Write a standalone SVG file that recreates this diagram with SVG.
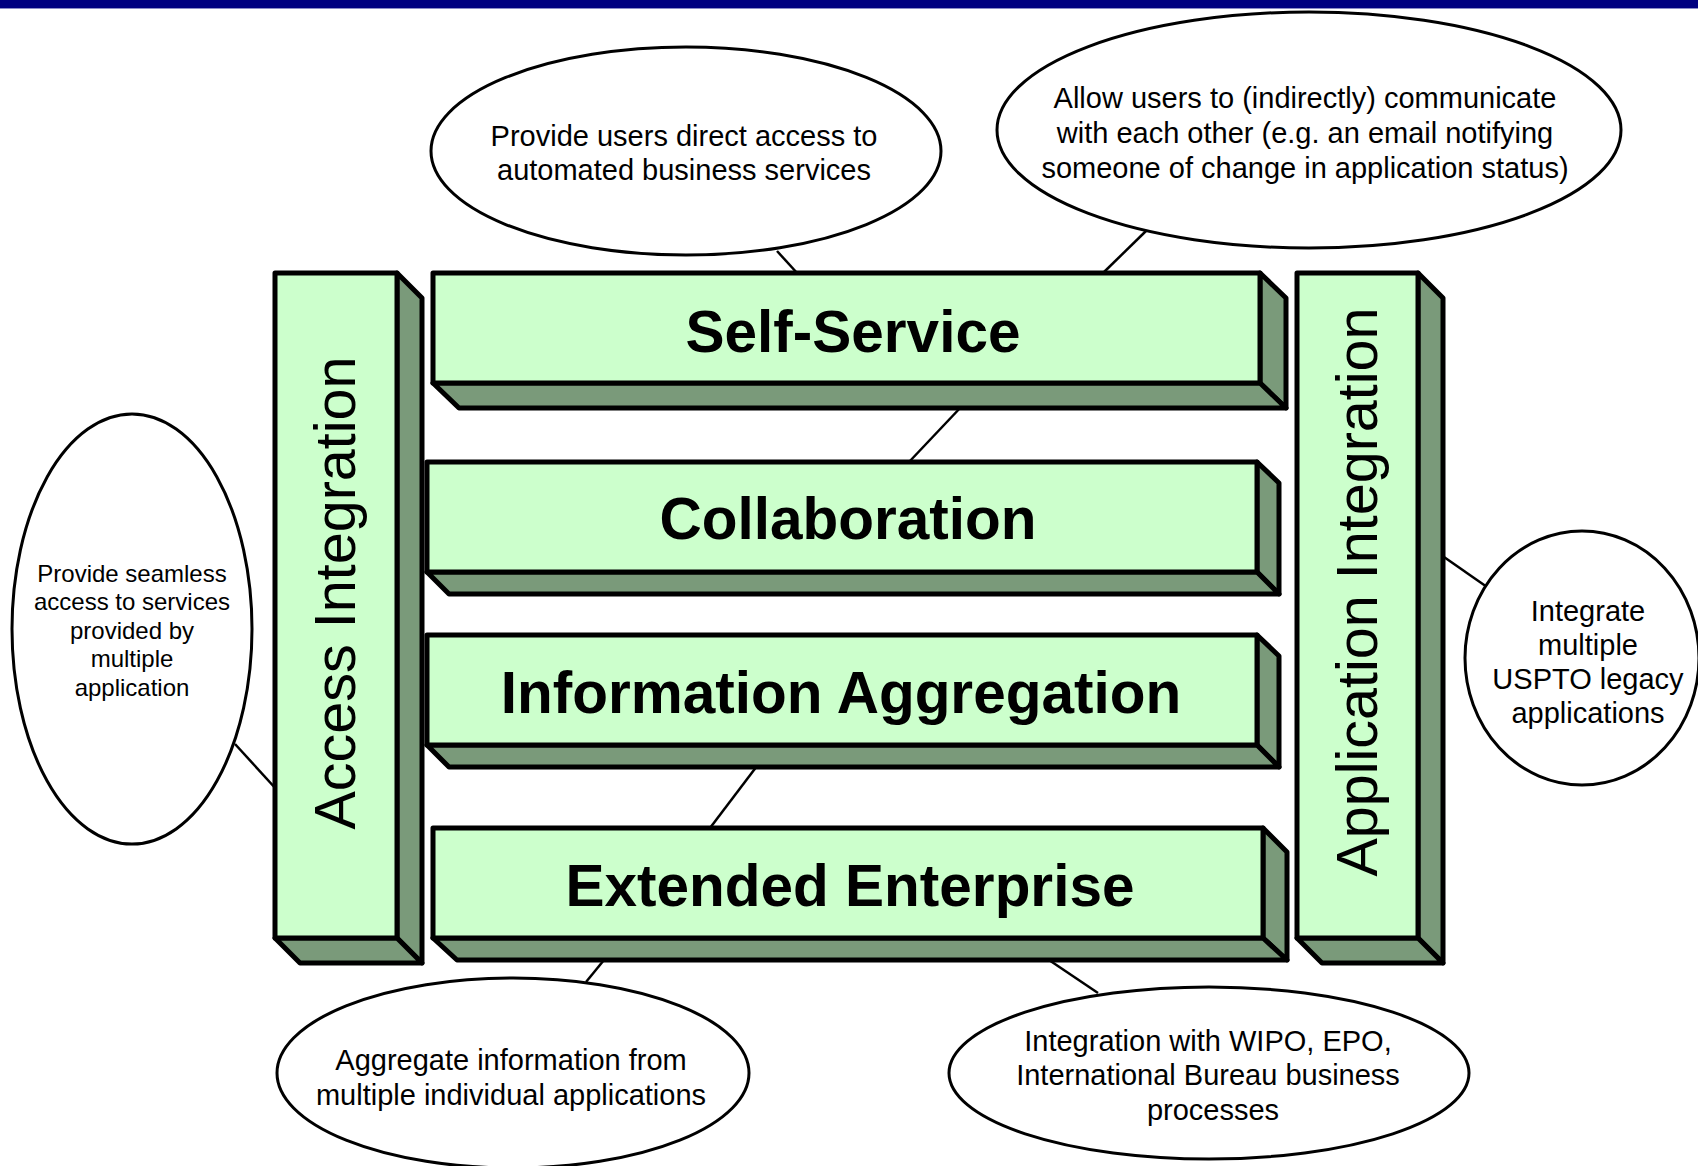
<svg xmlns="http://www.w3.org/2000/svg" width="1698" height="1166" viewBox="0 0 1698 1166">
<style>
.front{fill:#CCFFCC;stroke:#000;stroke-width:5;stroke-linejoin:round}
.side{fill:#7A9A7A;stroke:#000;stroke-width:5;stroke-linejoin:round}
.bub{fill:#fff;stroke:#000;stroke-width:3}
.conn{stroke:#000;stroke-width:2.5;fill:none}
.big{font-family:"Liberation Sans",Arial,sans-serif;font-weight:bold;font-size:58.5px;text-anchor:middle;fill:#000}
.vert{font-family:"Liberation Sans",Arial,sans-serif;font-size:57.5px;text-anchor:middle;fill:#000}
.note{font-family:"Liberation Sans",Arial,sans-serif;font-size:29px;text-anchor:middle;fill:#000}
.small{font-family:"Liberation Sans",Arial,sans-serif;font-size:24px;text-anchor:middle;fill:#000}
</style>
<rect x="0" y="0" width="1698" height="1166" fill="#fff"/>
<rect x="0" y="0" width="1698" height="8" fill="#000080"/>
<line x1="0" y1="8.5" x2="1698" y2="8.5" stroke="#8c8cc8" stroke-width="1"/>

<g id="connectors">
<line class="conn" x1="777" y1="251" x2="798" y2="274"/>
<line class="conn" x1="1146" y1="231" x2="1102" y2="274"/>
<line class="conn" x1="962" y1="406" x2="909" y2="462"/>
<line class="conn" x1="757" y1="766" x2="710" y2="828"/>
<line class="conn" x1="235" y1="744" x2="277" y2="790"/>
<line class="conn" x1="1444" y1="557" x2="1487" y2="587"/>
<line class="conn" x1="604" y1="960" x2="586" y2="982"/>
<line class="conn" x1="1049" y1="960" x2="1098" y2="993"/>
</g>

<g id="access-integration">
<polygon class="side" points="397,273 422,298 422,963 397,938"/>
<polygon class="side" points="275,938 397,938 422,963 300,963"/>
<rect class="front" x="275" y="273" width="122" height="665"/>
<text class="vert" transform="translate(355,593) rotate(-90)">Access Integration</text>
</g>

<g id="self-service">
<polygon class="side" points="1260,273 1286,298 1286,408 1260,383"/>
<polygon class="side" points="433,383 1260,383 1286,408 459,408"/>
<rect class="front" x="433" y="273" width="827" height="110"/>
<text class="big" x="853" y="352">Self-Service</text>
</g>

<g id="collaboration">
<polygon class="side" points="1257,462 1279,483 1279,594 1257,572"/>
<polygon class="side" points="427,572 1257,572 1279,594 449,594"/>
<rect class="front" x="427" y="462" width="830" height="110"/>
<text class="big" x="848" y="539">Collaboration</text>
</g>

<g id="information-aggregation">
<polygon class="side" points="1257,635 1279,656 1279,767 1257,745"/>
<polygon class="side" points="427,745 1257,745 1279,767 449,767"/>
<rect class="front" x="427" y="635" width="830" height="110"/>
<text class="big" x="841" y="713">Information Aggregation</text>
</g>

<g id="extended-enterprise">
<polygon class="side" points="1263,828 1287,852 1287,960 1263,938"/>
<polygon class="side" points="433,938 1263,938 1287,960 457,960"/>
<rect class="front" x="433" y="828" width="830" height="110"/>
<text class="big" x="850" y="906">Extended Enterprise</text>
</g>

<g id="application-integration">
<polygon class="side" points="1418,273 1443,298 1443,963 1418,938"/>
<polygon class="side" points="1297,938 1418,938 1443,963 1322,963"/>
<rect class="front" x="1297" y="273" width="121" height="665"/>
<text class="vert" transform="translate(1377,592) rotate(-90)">Application Integration</text>
</g>

<g id="note-self-service">
<ellipse class="bub" cx="686" cy="151" rx="255" ry="104"/>
<text class="note" x="684" y="146">Provide users direct access to</text>
<text class="note" x="684" y="180">automated business services</text>
</g>

<g id="note-collaboration">
<ellipse class="bub" cx="1309" cy="130" rx="312" ry="118"/>
<text class="note" x="1305" y="108">Allow users to (indirectly) communicate</text>
<text class="note" x="1305" y="143">with each other (e.g. an email notifying</text>
<text class="note" x="1305" y="178">someone of change in application status)</text>
</g>

<g id="note-access">
<ellipse class="bub" cx="132" cy="629" rx="120" ry="215"/>
<text class="small" x="132" y="582">Provide seamless</text>
<text class="small" x="132" y="610">access to services</text>
<text class="small" x="132" y="639">provided by</text>
<text class="small" x="132" y="667">multiple</text>
<text class="small" x="132" y="696">application</text>
</g>

<g id="note-application">
<ellipse class="bub" cx="1582" cy="658" rx="117" ry="127"/>
<text class="note" x="1588" y="621">Integrate</text>
<text class="note" x="1588" y="655">multiple</text>
<text class="note" x="1588" y="689">USPTO legacy</text>
<text class="note" x="1588" y="723">applications</text>
</g>

<g id="note-information-aggregation">
<ellipse class="bub" cx="513" cy="1073" rx="236" ry="95"/>
<text class="note" x="511" y="1070">Aggregate information from</text>
<text class="note" x="511" y="1105">multiple individual applications</text>
</g>

<g id="note-extended-enterprise">
<ellipse class="bub" cx="1209" cy="1073" rx="260" ry="86"/>
<text class="note" x="1208" y="1051">Integration with WIPO, EPO,</text>
<text class="note" x="1208" y="1085">International Bureau business</text>
<text class="note" x="1213" y="1120">processes</text>
</g>
</svg>
